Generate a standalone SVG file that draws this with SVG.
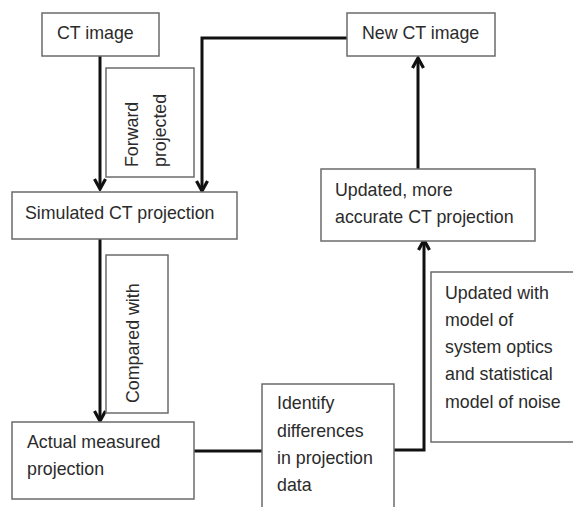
<svg xmlns="http://www.w3.org/2000/svg" width="573" height="507" viewBox="0 0 573 507">
<defs>
<style>
.box{fill:#fff;stroke:#6b6b6b;stroke-width:1.5}
.t{font-family:"Liberation Sans",Arial,sans-serif;font-size:17.8px;fill:#2b2b2b}
.c{fill:none;stroke:#111;stroke-width:3}
</style>
<marker id="ah" viewBox="0 0 14 14" markerWidth="14" markerHeight="14" refX="12" refY="7" orient="auto" markerUnits="userSpaceOnUse">
<path d="M2,1.5 L12,7 L2,12.5" fill="none" stroke="#111" stroke-width="3.2"/>
</marker>
</defs>
<rect width="573" height="507" fill="#fff"/>
<g id="connectors">
<line class="c" x1="100" y1="56" x2="100" y2="189" marker-end="url(#ah)"/>
<polyline class="c" points="347,38 202,38 202,191" marker-end="url(#ah)"/>
<line class="c" x1="100" y1="239" x2="100" y2="421" marker-end="url(#ah)"/>
<line class="c" x1="418" y1="169" x2="418" y2="58" marker-end="url(#ah)"/>
<line class="c" x1="194" y1="451" x2="262" y2="451"/>
<polyline class="c" points="394,450 424,450 424,240" marker-end="url(#ah)"/>
</g>
<g id="ct-image">
<rect class="box" x="42" y="13" width="117" height="43"/>
<text class="t" x="57" y="39">CT image</text>
</g>
<g id="new-ct-image">
<rect class="box" x="347" y="13" width="148" height="43"/>
<text class="t" x="362" y="39">New CT image</text>
</g>
<g id="forward-projected">
<rect class="box" x="106" y="68" width="88" height="109"/>
<text class="t" transform="translate(138,167) rotate(-90)">Forward</text>
<text class="t" transform="translate(166,167) rotate(-90)">projected</text>
</g>
<g id="simulated">
<rect class="box" x="12" y="192" width="225" height="47"/>
<text class="t" x="25" y="219">Simulated CT projection</text>
</g>
<g id="updated-projection">
<rect class="box" x="321" y="169" width="214" height="72"/>
<text class="t" x="335" y="196">Updated, more</text>
<text class="t" x="335" y="223">accurate CT projection</text>
</g>
<g id="compared-with">
<rect class="box" x="106" y="255" width="62" height="158"/>
<text class="t" transform="translate(139,403) rotate(-90)">Compared with</text>
</g>
<g id="updated-with">
<rect class="box" x="431" y="272" width="150" height="170"/>
<text class="t" x="445" y="299">Updated with</text>
<text class="t" x="445" y="326">model of</text>
<text class="t" x="445" y="353">system optics</text>
<text class="t" x="445" y="380">and statistical</text>
<text class="t" x="445" y="408">model of noise</text>
</g>
<g id="actual">
<rect class="box" x="12" y="422" width="182" height="77"/>
<text class="t" x="27" y="448">Actual measured</text>
<text class="t" x="27" y="475">projection</text>
</g>
<g id="identify">
<rect class="box" x="262" y="384" width="132" height="130"/>
<text class="t" x="277" y="409">Identify</text>
<text class="t" x="277" y="437">differences</text>
<text class="t" x="277" y="464">in projection</text>
<text class="t" x="277" y="491">data</text>
</g>
</svg>
